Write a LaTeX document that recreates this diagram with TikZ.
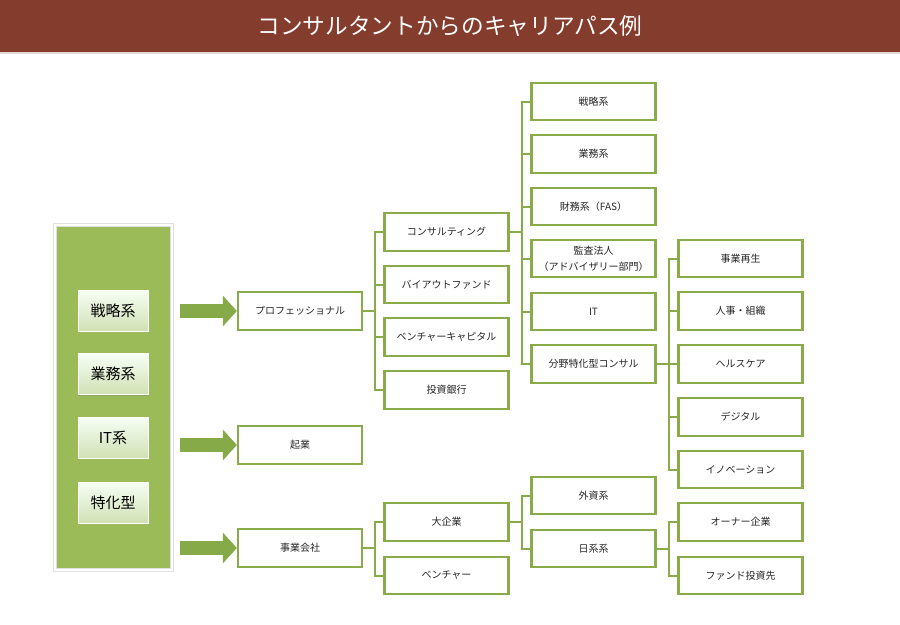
\documentclass[tikz,border=0pt]{standalone}
\usepackage{fontspec}
\setmainfont{Noto Sans CJK JP}
\usepackage{tikz}
\usetikzlibrary{positioning,arrows.meta,shadows}
\definecolor{titlebrown}{HTML}{843C2D}
\definecolor{boxgreen}{HTML}{8AAB4A}
\definecolor{panelgreen}{HTML}{9BBB59}
\definecolor{arrowgreen}{HTML}{86AA48}

\begin{document}
\begin{tikzpicture}[x=0.75pt,y=-0.75pt,
item/.style={draw=boxgreen,line width=1.7pt,fill=white,minimum width=93pt,minimum height=28pt,
  inner sep=0pt,align=center,text=black!85,font=\fontsize{7.5}{12}\selectfont},
kind/.style={draw=white,line width=0.4pt,top color=green!4!white,bottom color=panelgreen!45!white,
  minimum width=52.5pt,minimum height=30.75pt,inner sep=0pt,font=\fontsize{11.25}{13}\selectfont,
  drop shadow={opacity=0.35,shadow xshift=1pt,shadow yshift=-1pt}},
link/.style={draw=boxgreen,line width=1.5pt},
bigarrow/.style={draw=arrowgreen,line width=10.5pt,-{Triangle[length=10.5pt,width=22.5pt]},
  shorten <=6pt}]
\useasboundingbox (0,0) rectangle (900,625);
\fill[titlebrown] (0,0) rectangle (900,52);
\fill[titlebrown!20!white] (0,52) rectangle (900,54);
\node (title) at (450,26)[text=white,font=\fontsize{17}{19}\selectfont]{コンサルタントからのキャリアパス例};

\node (panel) at (113.5,397.5)[fill=panelgreen,draw=black!12,line width=0.4pt,double=white,double distance=2pt,
  minimum width=87.75pt,minimum height=258.75pt,
  drop shadow={opacity=0.3,shadow xshift=1pt,shadow yshift=-1.5pt}]{};
\node (senryaku) at (113,310.5)[kind]{戦略系};
\node (gyomu) at (113,374)[kind]{業務系};
\node (itkei) at (113,437.5)[kind]{IT系};
\node (tokka) at (113,502.5)[kind]{特化型};

\node (prof) at (300,311)[item]{プロフェッショナル};
\node (kigyo) at (300,445)[item]{起業};
\node (jigyo) at (300,548)[item]{事業会社};

\node (cons) at (446.5,232)[item]{コンサルティング};
\node (buyout) at (446.5,284.5)[item]{バイアウトファンド};
\node (vc) at (446.5,337)[item]{ベンチャーキャピタル};
\node (ib) at (446.5,390)[item]{投資銀行};
\node (large) at (446.5,522)[item]{大企業};
\node (venture) at (446.5,575.5)[item]{ベンチャー};

\node (strat) at (593.5,101.5)[item]{戦略系};
\node (oper) at (593.5,154)[item]{業務系};
\node (fas) at (593.5,206.5)[item]{財務系（FAS）};
\node (audit) at (593.5,258.5)[item]{監査法人\\（アドバイザリー部門）};
\node (it) at (593.5,311.5)[item]{IT};
\node (field) at (593.5,364)[item]{分野特化型コンサル};
\node (foreign) at (593.5,495.5)[item]{外資系};
\node (japan) at (593.5,548.5)[item]{日系系};

\node (revival) at (740.5,258.5)[item]{事業再生};
\node (hr) at (740.5,311)[item]{人事・組織};
\node (health) at (740.5,364)[item]{ヘルスケア};
\node (digital) at (740.5,417)[item]{デジタル};
\node (innov) at (740.5,469.5)[item]{イノベーション};
\node (owner) at (740.5,522)[item]{オーナー企業};
\node (fund) at (740.5,575.5)[item]{ファンド投資先};

\draw[bigarrow] (panel.east |- prof) -- (prof.west);
\draw[bigarrow] (panel.east |- kigyo) -- (kigyo.west);
\draw[bigarrow] (panel.east |- jigyo) -- (jigyo.west);

\foreach \c in {cons,buyout,vc,ib}
  \draw[link] (prof.east) -- ++(11.5,0) |- (\c.west);
\foreach \c in {large,venture}
  \draw[link] (jigyo.east) -- ++(11.5,0) |- (\c.west);
\foreach \c in {strat,oper,fas,audit,it,field}
  \draw[link] (cons.east) -- ++(12,0) |- (\c.west);
\foreach \c in {foreign,japan}
  \draw[link] (large.east) -- ++(12,0) |- (\c.west);
\foreach \c in {revival,hr,health,digital,innov}
  \draw[link] (field.east) -- ++(12,0) |- (\c.west);
\foreach \c in {owner,fund}
  \draw[link] (japan.east) -- ++(12,0) |- (\c.west);
\end{tikzpicture}
\end{document}
